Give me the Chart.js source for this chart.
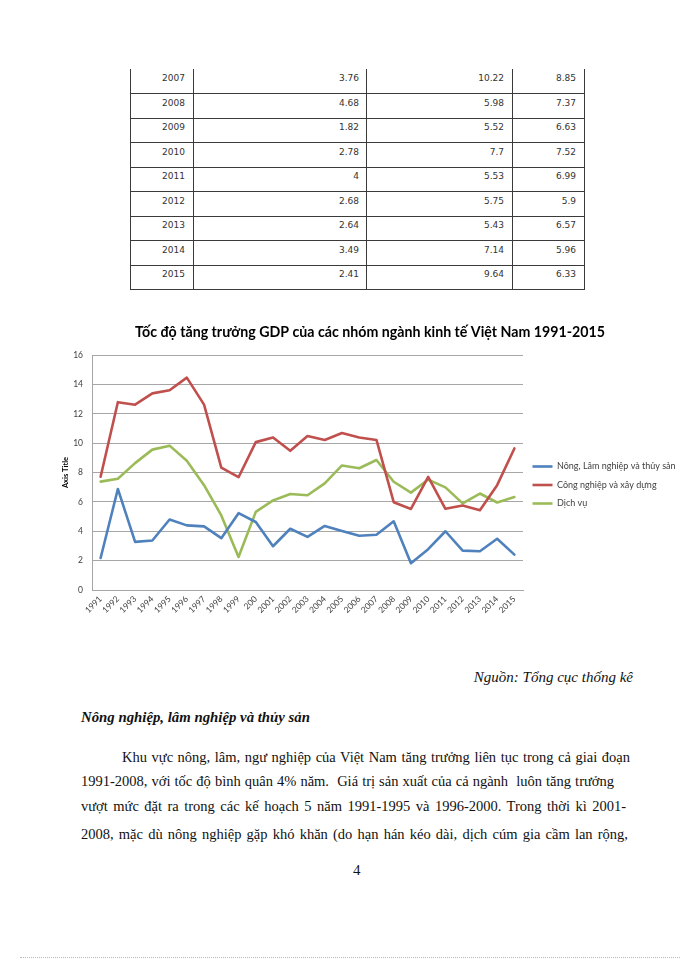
<!DOCTYPE html>
<html>
<head>
<meta charset="utf-8">
<script src="https://cdn.jsdelivr.net/npm/chart.js@4.4.0/dist/chart.umd.min.js"></script>
<style>
html,body{margin:0;padding:0;background:#fff;}
body{width:700px;height:960px;position:relative;overflow:hidden;}
.cell{position:absolute;box-sizing:border-box;text-align:right;font-family:"DejaVu Sans",sans-serif;font-size:9px;color:#333;line-height:12px;padding-top:3px;height:24px;}
.vl{position:absolute;width:1px;background:#3a3a3a;}
.hl{position:absolute;height:1px;background:#3a3a3a;}
#chartBox{position:absolute;left:50px;top:310px;width:640px;height:350px;}
.txt{position:absolute;font-family:"Liberation Serif","Times New Roman",serif;font-size:14.5px;color:#111;white-space:pre;line-height:20px;}
</style>
</head>
<body>
<div id="table"></div>
<div id="chartBox"><canvas id="c" width="640" height="350"></canvas></div>

<div class="txt" id="src" style="right:67px;top:667px;font-style:italic;font-size:15px;">Nguồn: Tổng cục thống kê</div>
<div class="txt" style="left:81px;top:707px;font-style:italic;font-weight:bold;font-size:14.8px;">Nông nghiệp, lâm nghiệp và thủy sản</div>
<div class="txt line" data-end="630" style="left:122px;top:747px;">Khu vực nông, lâm, ngư nghiệp của Việt Nam tăng trưởng liên tục trong cả giai đoạn</div>
<div class="txt line" data-end="614" style="left:81px;top:771px;">1991-2008, với tốc độ bình quân 4% năm.  Giá trị sản xuất của cả ngành  luôn tăng trưởng</div>
<div class="txt line" data-end="626" style="left:81px;top:796px;">vượt mức đặt ra trong các kế hoạch 5 năm 1991-1995 và 1996-2000. Trong thời kì 2001-</div>
<div class="txt line" data-end="628" style="left:81px;top:824px;">2008, mặc dù nông nghiệp gặp khó khăn (do hạn hán kéo dài, dịch cúm gia cầm lan rộng,</div>
<div class="txt" style="left:353px;top:860px;font-size:15px;">4</div>
<div style="position:absolute;left:20px;top:957px;width:660px;border-top:1px dotted #bbb;"></div>

<script>
// ---- data ----
const years = ['1991','1992','1993','1994','1995','1996','1997','1998','1999','200','2001','2002','2003','2004','2005','2006','2007','2008','2009','2010','2011','2012','2013','2014','2015'];
const tableYears = ['2007','2008','2009','2010','2011','2012','2013','2014','2015'];
const nongLamThuy = [2.18,6.88,3.28,3.37,4.80,4.40,4.33,3.53,5.23,4.63,2.98,4.17,3.62,4.36,4.02,3.69,3.76,4.68,1.82,2.78,4,2.68,2.64,3.49,2.41];
const congNghiepXayDung = [7.71,12.79,12.62,13.39,13.60,14.46,12.62,8.33,7.68,10.07,10.39,9.48,10.48,10.22,10.69,10.38,10.22,5.98,5.52,7.7,5.53,5.75,5.43,7.14,9.64];
const dichVu = [7.38,7.58,8.64,9.56,9.83,8.80,7.14,5.08,2.25,5.32,6.10,6.54,6.45,7.26,8.48,8.29,8.85,7.37,6.63,7.52,6.99,5.9,6.57,5.96,6.33];
const seriesNames = ['Nông, Lâm nghiệp và thủy sản','Công nghiệp và xây dựng','Dịch vụ'];
const chartTitle = 'Tốc độ tăng trưởng GDP của các nhóm ngành kinh tế Việt Nam 1991-2015';

// ---- table (rows 2007-2015, taken from the same series) ----
(function(){
  const t = document.getElementById('table');
  const colX = [130,193,366,512,584];
  const top0 = 69, rh = 24.5;
  const offset = years.length - tableYears.length;
  tableYears.forEach((y,r)=>{
    const i = offset + r;
    const vals = [y, String(nongLamThuy[i]), String(congNghiepXayDung[i]), String(dichVu[i])];
    vals.forEach((v,c)=>{
      const d = document.createElement('div');
      d.className='cell';
      d.style.left = colX[c]+'px';
      d.style.width = (colX[c+1]-colX[c])+'px';
      d.style.top = (top0 + r*rh)+'px';
      d.style.paddingRight = (c===1?7:8)+'px';
      d.textContent = v;
      t.appendChild(d);
    });
    const h = document.createElement('div');
    h.className='hl';
    h.style.left = colX[0]+'px';
    h.style.width = (colX[4]-colX[0]+1)+'px';
    h.style.top = Math.round(top0 + (r+1)*rh - 0.5)+'px';
    t.appendChild(h);
  });
  colX.forEach(x=>{
    const v = document.createElement('div');
    v.className='vl';
    v.style.left = x+'px';
    v.style.top = top0+'px';
    v.style.height = (tableYears.length*rh)+'px';
    t.appendChild(v);
  });
})();

// ---- paragraph line fitting ----
document.querySelectorAll('.line').forEach(el=>{
  const target = +el.dataset.end - parseFloat(el.style.left);
  const w = el.getBoundingClientRect().width;
  const spaces = (el.textContent.match(/ /g)||[]).length;
  if (spaces) el.style.wordSpacing = ((target - w)/spaces)+'px';
});

// ---- chart ----
const legendWidthPlugin = {
  id:'legendWidth',
  beforeUpdate(chart){
    const lg = chart.legend;
    if (lg && !lg._patched){
      const orig = lg.fit.bind(lg);
      lg.fit = function(){ orig(); this.width = 167; };
      lg._patched = true;
    }
  }
};

const gridColor = '#a6a6a6';
new Chart(document.getElementById('c'), {
  type:'line',
  data:{
    labels: years,
    datasets:[
      {label:seriesNames[0], data:nongLamThuy, borderColor:'#4f81bd', backgroundColor:'#4f81bd', borderWidth:2.6},
      {label:seriesNames[1], data:congNghiepXayDung, borderColor:'#c0504d', backgroundColor:'#c0504d', borderWidth:2.6},
      {label:seriesNames[2], data:dichVu, borderColor:'#9bbb59', backgroundColor:'#9bbb59', borderWidth:2.6}
    ]
  },
  options:{
    responsive:false,
    animation:false,
    devicePixelRatio:1,
    layout:{padding:0},
    elements:{
      line:{tension:0, borderCapStyle:'round', borderJoinStyle:'round'},
      point:{radius:0, hoverRadius:0}
    },
    plugins:{
      title:{display:true, text:chartTitle, color:'#000',
        font:{family:'Lato', size:14.2, weight:'bold'}, padding:{top:14,bottom:14}},
      legend:{position:'right', align:'center',
        labels:{usePointStyle:true, pointStyle:'line', pointStyleWidth:20, boxHeight:8,
          padding:9.5, color:'#404040', font:{family:'Lato', size:9}}},
      tooltip:{enabled:false}
    },
    scales:{
      x:{
        offset:true,
        grid:{display:false, drawTicks:false},
        border:{display:true, color:gridColor, width:1},
        ticks:{autoSkip:false, minRotation:45, maxRotation:45, padding:4,
          color:'#404040', font:{family:'Lato', size:8.5}},
        afterFit(s){ s.height = 70; }
      },
      y:{
        min:0, max:16,
        grid:{color:gridColor, lineWidth:1, drawTicks:false},
        border:{display:true, color:gridColor, width:1},
        ticks:{stepSize:2, padding:9, color:'#404040', font:{family:'Lato', size:8.5}},
        title:{display:true, text:'Axis Title', color:'#000',
          font:{family:'Lato', size:7.5, weight:'bold'}, padding:{top:11,bottom:0}},
        afterFit(s){ s.width = 42; }
      }
    }
  },
  plugins:[legendWidthPlugin]
});
</script>
</body>
</html>
